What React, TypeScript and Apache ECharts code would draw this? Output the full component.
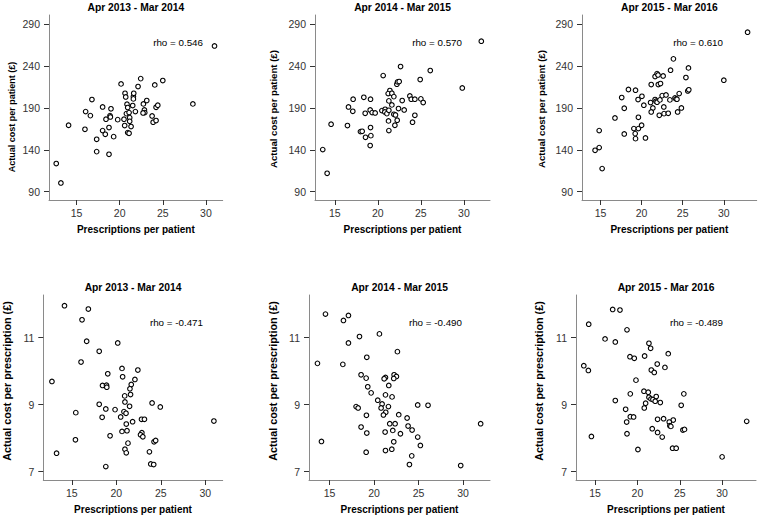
import React, { useEffect, useRef } from "react";
import * as echarts from "echarts";

const periods = ["Apr 2013 - Mar 2014", "Apr 2014 - Mar 2015", "Apr 2015 - Mar 2016"];
const rhoPatient = ["rho = 0.546", "rho = 0.570", "rho = 0.610"];
const rhoPrescription = ["rho = -0.471", "rho = -0.490", "rho = -0.489"];
const xTicks = [15, 20, 25, 30];
const yTicksPatient = [90, 140, 190, 240, 290];
const yTicksPrescription = [7, 9, 11];
const xTitle = "Prescriptions per patient";
const yTitlePatient = "Actual cost per patient (£)";
const yTitlePrescription = "Actual cost per prescription (£)";

const patient2013 = [
  [31.0, 264], [12.64, 123.5], [13.18, 100.4], [14.07, 169.3], [16.78, 200], [16.05, 185.6], [16.6, 180.8],
  [15.97, 164.5], [17.33, 152.5], [17.33, 137.8], [18.02, 191.2], [18.02, 162.9], [18.33, 158.5], [18.41, 176.5],
  [18.88, 180.8], [18.92, 179.2], [18.99, 188.9], [18.76, 166.5], [18.76, 134.6], [19.3, 155.7], [19.77, 176],
  [20.16, 218.7], [20.5, 176.5], [20.58, 168.9], [20.62, 207.5], [20.7, 203.1], [20.85, 194.4], [20.93, 190.4],
  [20.78, 183.2], [21.09, 184.4], [20.93, 160.5], [21.09, 159.7], [21.16, 178.4], [21.16, 174], [21.32, 167.7],
  [21.51, 192.8], [21.59, 203.5], [21.63, 207.5], [21.59, 200.8], [21.82, 185.6], [22.13, 215.5], [22.44, 225],
  [22.75, 194.8], [23.14, 198.8], [22.87, 187.6], [22.91, 184.4], [22.71, 184], [23.76, 180.4], [23.88, 172.9],
  [24.22, 174.9], [24.07, 217.5], [24.22, 190.8], [24.42, 193.2], [25.0, 222.7], [28.49, 194.8],
];

const patient2014 = [
  [32.02, 269.7], [13.6, 140.2], [14.11, 111.9], [14.57, 170.5], [16.47, 168.9], [16.59, 191.2], [17.13, 200.4],
  [17.09, 186], [18.37, 202.7], [18.53, 183.6], [17.98, 161.7], [18.18, 162.1], [18.57, 154.9], [19.15, 200.4],
  [19.11, 187.6], [19.34, 184.4], [19.69, 184], [19.15, 166.5], [19.19, 156.9], [19.11, 145], [20.62, 228.6],
  [20.47, 186.8], [20.85, 188.4], [20.81, 185.2], [21.05, 183.2], [21.28, 187.2], [21.28, 198.4], [21.4, 210.7],
  [21.2, 207.1], [21.63, 207.5], [21.63, 193.6], [21.86, 203.5], [21.86, 182.4], [22.05, 181.6], [21.98, 169.3],
  [21.24, 174.5], [21.28, 162.9], [22.21, 218.3], [22.29, 221.1], [22.48, 221.5], [22.25, 175.3], [22.4, 189.2],
  [22.64, 239.4], [22.83, 198.8], [23.06, 187.6], [23.72, 204.3], [23.88, 200.4], [24.3, 200.4], [24.03, 172.9],
  [24.3, 181.2], [24.92, 223.9], [25.0, 200.8], [25.27, 196.4], [26.09, 234.6], [29.81, 213.9],
];

const patient2015 = [
  [32.89, 280.4], [14.34, 139.4], [14.84, 142.6], [14.84, 162.9], [15.2, 117.5], [16.76, 178], [17.89, 158.9],
  [17.58, 202.4], [17.89, 189.6], [18.4, 212], [19.26, 211.2], [19.57, 200], [20.04, 203.9], [19.61, 178.8],
  [20.27, 193.2], [19.06, 165.3], [19.61, 165.3], [20.0, 169.3], [19.22, 159.3], [19.26, 153.3], [20.47, 154.1],
  [21.17, 217.9], [21.09, 196.4], [21.37, 190], [21.17, 185.2], [21.64, 200], [21.64, 227.5], [21.88, 231],
  [22.0, 229.4], [21.76, 198], [21.88, 196.8], [22.03, 217.9], [22.3, 219.1], [22.15, 181.2], [22.23, 199.6],
  [22.5, 204.7], [22.62, 228.2], [22.7, 191.2], [22.73, 183.2], [22.97, 205.5], [23.24, 183.6], [23.44, 199.6],
  [23.52, 235.1], [23.87, 248.6], [24.06, 202], [24.18, 200.8], [24.3, 200.4], [24.38, 185.2], [24.57, 207.1],
  [24.84, 190], [25.39, 226.3], [25.62, 210.3], [25.74, 211.6], [25.7, 237.8], [30.0, 223.1],
];

const prescription2013 = [
  [14.18, 11.95], [16.86, 11.85], [16.15, 11.53], [16.67, 10.89], [20.16, 10.84], [18.08, 10.59], [16.04, 10.27],
  [12.77, 9.69], [20.64, 10.08], [22.42, 10.03], [19.04, 9.92], [20.71, 9.83], [22.09, 9.75], [21.68, 9.6],
  [18.45, 9.57], [18.9, 9.58], [18.93, 9.52], [21.53, 9.47], [21.6, 9.3], [20.94, 9.26], [20.97, 9.08],
  [18.08, 9.01], [21.49, 8.95], [24.02, 9.05], [24.94, 8.93], [18.82, 8.87], [19.86, 8.85], [15.45, 8.76],
  [20.86, 8.79], [21.09, 8.74], [20.49, 8.63], [18.41, 8.62], [21.83, 8.49], [22.83, 8.56], [23.16, 8.56],
  [21.12, 8.42], [30.96, 8.51], [21.2, 8.22], [20.64, 8.2], [22.87, 8.16], [22.72, 8.1], [22.98, 8.04],
  [19.3, 8.07], [15.41, 7.95], [21.31, 7.85], [24.24, 7.89], [24.42, 7.93], [20.97, 7.67], [21.12, 7.56],
  [13.29, 7.55], [23.72, 7.59], [23.87, 7.23], [24.2, 7.21], [18.82, 7.15],
];

const prescription2014 = [
  [14.55, 11.7], [17.13, 11.66], [16.57, 11.51], [20.61, 11.11], [18.37, 11.03], [17.13, 10.84], [22.63, 10.58],
  [19.19, 10.41], [13.65, 10.23], [16.5, 10.2], [18.55, 9.89], [19.12, 9.79], [22.26, 9.89], [22.52, 9.84],
  [21.29, 9.81], [21.14, 9.77], [22.22, 9.78], [19.3, 9.53], [21.66, 9.57], [19.68, 9.35], [21.29, 9.29],
  [22.03, 9.23], [20.42, 9.13], [20.91, 9.02], [20.8, 8.9], [21.62, 8.94], [17.99, 8.94], [18.22, 8.9],
  [21.32, 8.77], [21.06, 8.69], [22.78, 8.7], [19.15, 8.68], [24.91, 8.99], [26.07, 8.98], [23.72, 8.6],
  [21.77, 8.43], [22.37, 8.43], [23.83, 8.36], [24.28, 8.24], [22.11, 8.23], [31.98, 8.43], [18.55, 8.33],
  [21.25, 8.18], [22.97, 8.13], [19.19, 8.15], [24.91, 8.03], [14.1, 7.9], [22.22, 7.89], [25.21, 7.78],
  [21.29, 7.63], [22.0, 7.67], [19.12, 7.58], [24.24, 7.47], [23.98, 7.21], [29.74, 7.18],
];

const prescription2015 = [
  [17.08, 11.84], [17.94, 11.82], [14.25, 11.4], [18.77, 11.23], [16.18, 10.96], [17.39, 10.87], [21.36, 10.83],
  [21.56, 10.68], [23.64, 10.52], [19.12, 10.43], [19.63, 10.38], [20.85, 10.45], [22.34, 10.21], [13.67, 10.16],
  [14.21, 10.02], [21.64, 10.03], [21.99, 9.96], [23.25, 10.11], [19.83, 9.73], [20.77, 9.4], [21.28, 9.37],
  [19.16, 9.32], [21.36, 9.22], [21.6, 9.17], [21.83, 9.15], [22.22, 9.24], [22.1, 9.1], [25.48, 9.32],
  [17.39, 9.12], [20.97, 9.04], [22.7, 9.06], [20.81, 8.9], [25.17, 8.98], [18.61, 8.86], [19.16, 8.64],
  [19.55, 8.63], [22.38, 8.56], [23.09, 8.58], [24.23, 8.54], [18.73, 8.48], [23.76, 8.48], [23.83, 8.37],
  [23.95, 8.35], [32.9, 8.5], [21.75, 8.28], [22.38, 8.17], [25.37, 8.24], [25.56, 8.26], [18.77, 8.13],
  [22.93, 8.03], [14.57, 8.05], [20.06, 7.66], [24.15, 7.7], [24.58, 7.7], [30.0, 7.44],
];

const FONT = '"Liberation Sans", Arial, sans-serif';

export default function App() {
  const ref = useRef<HTMLDivElement>(null);
  useEffect(() => {
    if (!ref.current) return;
    const chart = echarts.init(ref.current, undefined, { renderer: "svg" });

    const panels = [
      { grid: { left: 49, top: 15, width: 173.7, height: 185 }, x: [11.8, 31.95], y: [80, 301], ticks: yTicksPatient, data: patient2013 },
      { grid: { left: 315, top: 15, width: 175, height: 185 }, x: [12.7, 33.03], y: [80, 301], ticks: yTicksPatient, data: patient2014 },
      { grid: { left: 582, top: 15, width: 174.7, height: 185 }, x: [12.75, 34.0], y: [80, 301], ticks: yTicksPatient, data: patient2015 },
      { grid: { left: 43.3, top: 295, width: 179.4, height: 185 }, x: [11.8, 31.95], y: [6.75, 12.27], ticks: yTicksPrescription, data: prescription2013 },
      { grid: { left: 309, top: 295, width: 181, height: 185 }, x: [12.7, 33.03], y: [6.75, 12.27], ticks: yTicksPrescription, data: prescription2014 },
      { grid: { left: 576, top: 295, width: 180, height: 185 }, x: [12.75, 34.0], y: [6.75, 12.27], ticks: yTicksPrescription, data: prescription2015 },
    ];

    const axisCommon = {
      type: "value",
      axisLine: { show: true, lineStyle: { color: "#8a8a8a", width: 1 } },
      axisTick: { show: true, length: 5, lineStyle: { color: "#333", width: 1 } },
      splitLine: { show: false },
    };

    const xAxis = panels.map((p, i) => ({
      ...axisCommon,
      gridIndex: i,
      min: p.x[0],
      max: p.x[1],
      axisTick: { ...axisCommon.axisTick, customValues: xTicks },
      axisLabel: { customValues: xTicks, color: "#333", fontSize: 10.5, fontFamily: FONT, margin: 7 },
      name: xTitle,
      nameLocation: "middle",
      nameGap: 24,
      nameTextStyle: { fontFamily: FONT, fontWeight: "bold", fontSize: 10, color: "#000" },
    }));

    const yAxis = panels.map((p, i) => ({
      ...axisCommon,
      gridIndex: i,
      min: p.y[0],
      max: p.y[1],
      axisTick: { ...axisCommon.axisTick, customValues: p.ticks },
      axisLabel: { customValues: p.ticks, color: "#333", fontSize: 10.5, fontFamily: FONT, margin: 9 },
    }));

    const series = panels.map((p, i) => ({
      type: "scatter",
      xAxisIndex: i,
      yAxisIndex: i,
      data: p.data,
      symbol: "circle",
      symbolSize: 4.6,
      itemStyle: { color: "#fff", borderColor: "#000", borderWidth: 1.1, opacity: 1 },
      emphasis: { disabled: true },
    }));

    const txt = (text: string, x: number, y: number, font: string, align: string, rotation = 0) => ({
      type: "text",
      x,
      y,
      rotation,
      style: { text, font, fill: "#000", align, verticalAlign: "middle", textAlign: align, textVerticalAlign: "middle" },
      silent: true,
    });

    const titleFont = `bold 10.3px ${FONT}`;
    const rhoFont = `9.8px ${FONT}`;
    const graphic: any[] = [];
    const titleX = panels.map((p) => p.grid.left + p.grid.width / 2);
    periods.forEach((t, i) => {
      graphic.push(txt(t, titleX[i], 7, titleFont, "center"));
      graphic.push(txt(t, titleX[i + 3], 287, titleFont, "center"));
    });
    const rhoRight = [203, 462, 723];
    rhoPatient.forEach((t, i) => graphic.push(txt(t, rhoRight[i], 42, rhoFont, "right")));
    rhoPrescription.forEach((t, i) => graphic.push(txt(t, rhoRight[i], 322, rhoFont, "right")));
    const yTitleX = [12, 273, 541];
    const yTitleTopY = [117, 109, 109];
    const yTitleTopSize = [9, 9.6, 9.6];
    yTitleX.forEach((x, i) => {
      graphic.push(txt(yTitlePatient, x, yTitleTopY[i], `bold ${yTitleTopSize[i]}px ${FONT}`, "center", Math.PI / 2));
    });
    const yTitleBotX = [7, 273, 539];
    yTitleBotX.forEach((x) => {
      graphic.push(txt(yTitlePrescription, x, 381, `bold 10.8px ${FONT}`, "center", Math.PI / 2));
    });

    chart.setOption({
      animation: false,
      backgroundColor: "#fff",
      grid: panels.map((p) => ({ ...p.grid, containLabel: false })),
      xAxis,
      yAxis,
      series,
      graphic,
    });
    return () => chart.dispose();
  }, []);

  return <div ref={ref} style={{ position: "fixed", left: 0, top: 0, width: 759, height: 519 }} />;
}
